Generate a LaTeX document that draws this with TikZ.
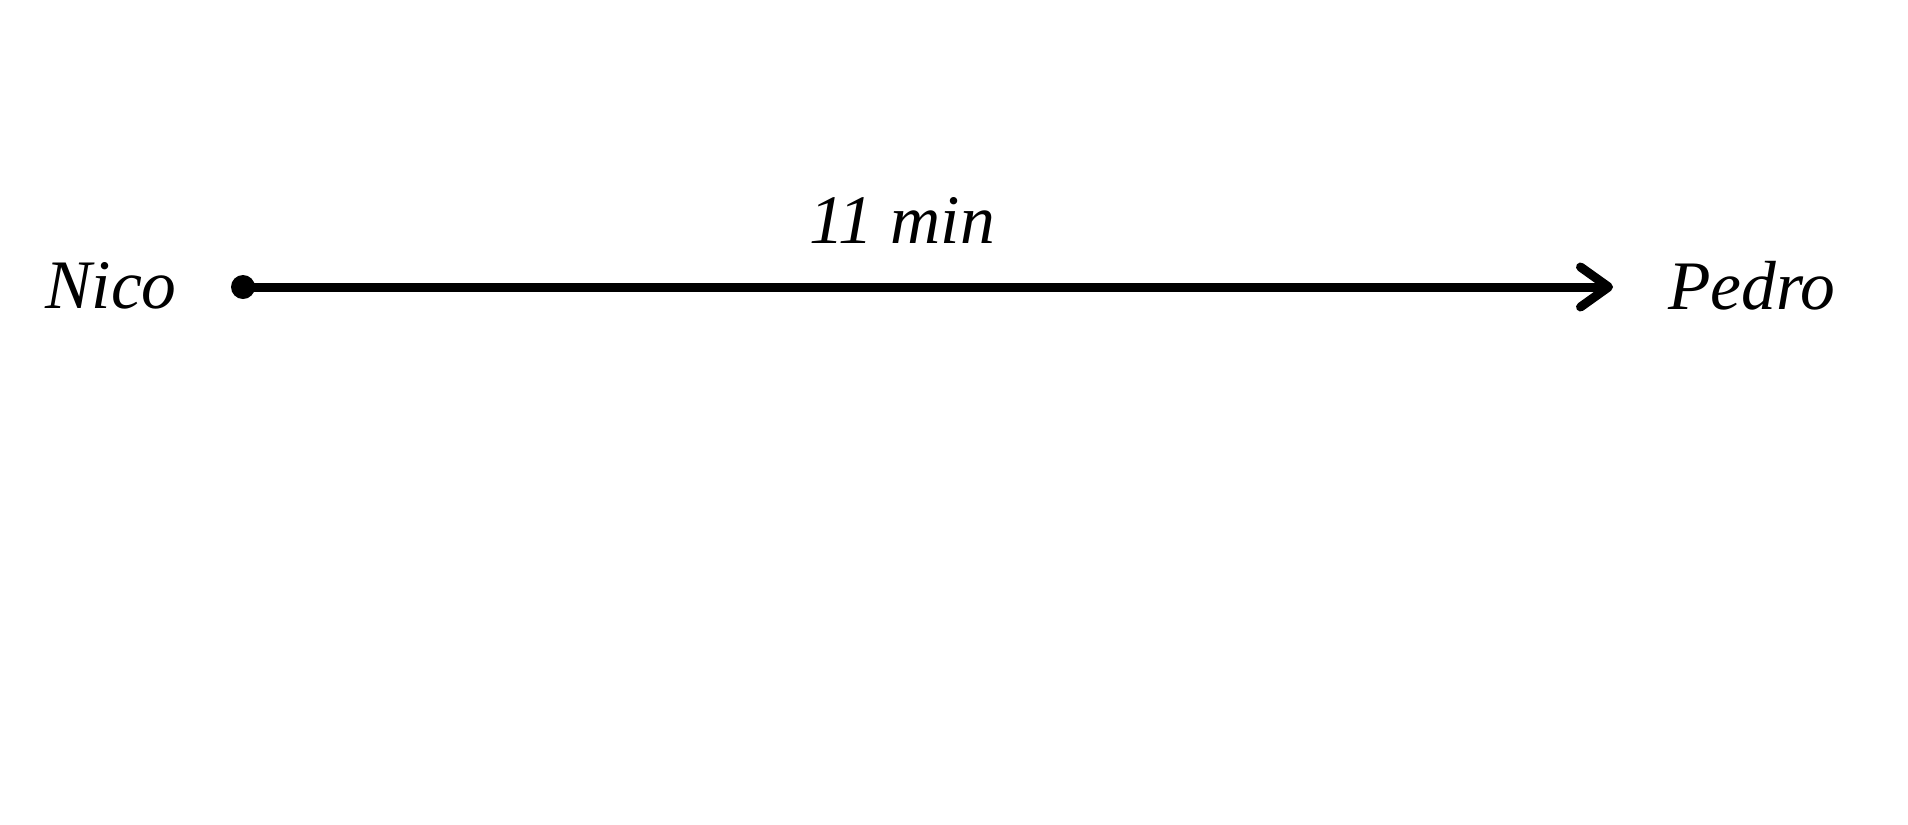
\documentclass[tikz,border=0pt]{standalone}
\usepackage{fontspec}
\setmainfont{Liberation Serif}
\usetikzlibrary{arrows.meta}
\begin{document}
\begin{tikzpicture}[x=0.5bp,y=-0.5bp,
  lbl/.style={font=\fontsize{34.75bp}{40bp}\selectfont\itshape, inner sep=0pt, anchor=base},
  conn/.style={line width=4.5bp, -{Straight Barb[length=14bp,width=20bp,line width=4.5bp,round]}}]
\useasboundingbox[fill=white] (0,0) rectangle (1908,824);
\node[lbl] (nico) at (111,308) {Nico};
\node[lbl] (pedro) at (1752,309) {Pedro};
\node[lbl] (time) at (902,243) {11 min};
\coordinate (start) at (243,287);
\coordinate (tip) at (1613,287);
\fill (start) circle[radius=12];
\draw[conn] (start) -- (tip);
\end{tikzpicture}
\end{document}
